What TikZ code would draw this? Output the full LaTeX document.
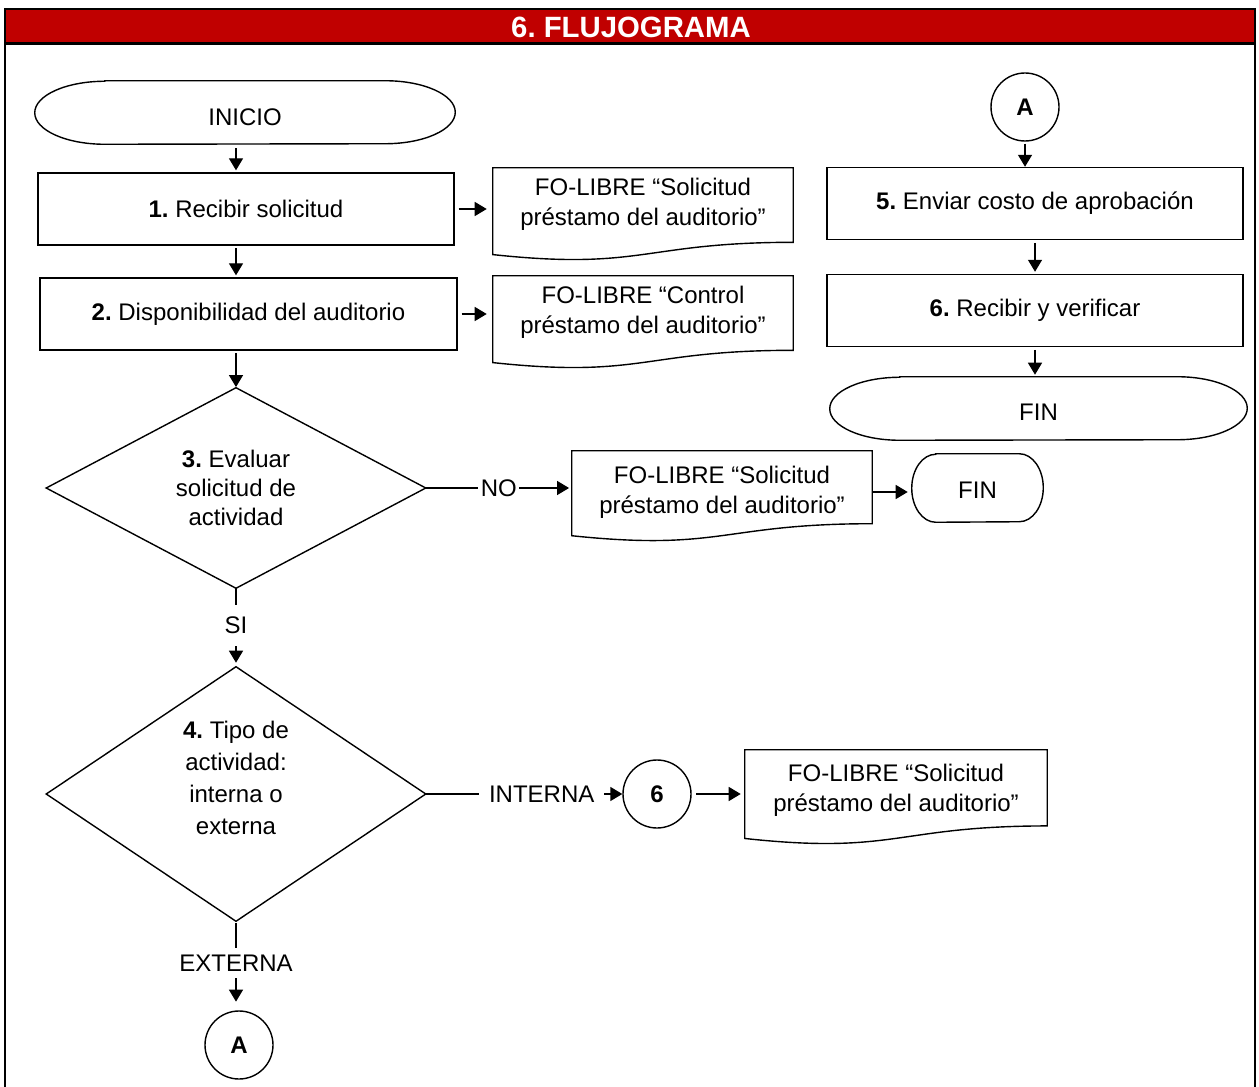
\documentclass[tikz,border=0pt]{standalone}
\usepackage{fontspec}
\setmainfont{Liberation Sans}
\frenchspacing
\usetikzlibrary{arrows.meta,calc}
\definecolor{titlered}{HTML}{C00000}
\newcommand\termpath[3]{%
  \draw[shp] ([xshift=#2]#1.north west) -- ([xshift=-#2]#1.north east)
    arc[start angle=90, end angle=-90, x radius=#2, y radius=#3]
    -- ([xshift=#2]#1.south west)
    arc[start angle=270, end angle=90, x radius=#2, y radius=#3] -- cycle;}
\newcommand\docpath[2]{%
  \draw[shp] (#1.north west) -- (#1.north east) -- ($(#1.north east)+(0,0.802*#2)$)
    .. controls ($(#1.north)+(0,0.802*#2)$) and ($(#1.north)+(0,1.107*#2)$) ..
    ($(#1.north west)+(0,0.934*#2)$) -- cycle;}
\begin{document}
\begin{tikzpicture}[x=0.75pt,y=-0.75pt,
  every node/.style={font=\fontsize{18pt}{21pt}\selectfont, inner sep=0pt},
  shp/.style={line width=1.05pt, line join=miter},
  procbox/.style={draw, line width=1.05pt, minimum width=312pt, minimum height=54pt},
  plain/.style={draw=none},
  docnode/.style={draw=none, align=center, minimum width=225pt,
    font=\fontsize{18pt}{22.5pt}\selectfont},
  conn/.style={circle, draw, line width=1.05pt, minimum size=51pt,
    font=\fontsize{18pt}{21pt}\selectfont\bfseries},
  arr/.style={line width=1.05pt, -{Triangle[length=9pt,width=10.5pt]}, shorten <=2pt, shorten >=1.5pt},
  lbl/.style={fill=white, inner xsep=2pt, inner ysep=2pt},
  ttl/.style={text=white, font=\fontsize{22pt}{24pt}\selectfont\bfseries}
]
\useasboundingbox (0,0) rectangle (1259,1087);
% frame and title
\fill[titlered] (5,9) rectangle (1255,43.5);
\draw[line width=1.6pt] (5,1087) -- (5,9) -- (1255,9) -- (1255,1087);
\draw[line width=1.6pt] (5,43.5) -- (1255,43.5);
\node[ttl] (title) at (631,27) {6. FLUJOGRAMA};

% left column
\node[plain, minimum width=315pt, minimum height=47.25pt, text height=19.6pt] (ini) at (245,112.5) {INICIO};
\termpath{ini}{52.5pt}{23.625pt}
\node[procbox] (b1) at (246,209) {\textbf{1.} Recibir solicitud};
\node[procbox, minimum width=312.75pt] (b2) at (248.5,314) {\textbf{2.} Disponibilidad del auditorio};

\node[docnode, minimum height=54pt] (doc1) at (643,204) {FO-LIBRE “Solicitud\\préstamo del auditorio”};
\docpath{doc1}{93}
\node[docnode, minimum height=54pt] (doc2) at (643,312) {FO-LIBRE “Control\\préstamo del auditorio”};
\docpath{doc2}{93}

\node[plain, minimum width=284.25pt, minimum height=150pt, align=center,
  font=\fontsize{18pt}{21.75pt}\selectfont] (d3) at (236,488)
  {\textbf{3.} Evaluar\\solicitud de\\actividad};
\draw[shp] (d3.north) -- (d3.east) -- (d3.south) -- (d3.west) -- cycle;

\node[docnode, minimum height=61.5pt] (doc3) at (722,492) {FO-LIBRE “Solicitud\\préstamo del auditorio”};
\docpath{doc3}{91}
\node[plain, minimum width=98.25pt, minimum height=51pt, text height=15.5pt] (fin2) at (977.5,488) {FIN};
\termpath{fin2}{18pt}{25.5pt}

\node[plain, minimum width=284.25pt, minimum height=190.5pt, align=center,
  font=\fontsize{18pt}{24pt}\selectfont] (d4) at (236,794)
  {\textbf{4.} Tipo de\\actividad:\\interna o\\externa\\\mbox{}};
\draw[shp] (d4.north) -- (d4.east) -- (d4.south) -- (d4.west) -- cycle;

\node[conn] (c6) at (657,794) {6};
\node[docnode, minimum width=226.5pt, minimum height=60pt] (doc4) at (896,790) {FO-LIBRE “Solicitud\\préstamo del auditorio”};
\docpath{doc4}{95}

\node[conn] (cA) at (239,1045) {A};

% right column
\node[conn] (cA2) at (1025,107) {A};
\node[procbox] (b5) at (1035,203.5) {\textbf{5.} Enviar costo de aprobación};
\node[procbox] (b6) at (1035,310.5) {\textbf{6.} Recibir y verificar};
\node[plain, minimum width=312.75pt, minimum height=47.25pt, text height=18.2pt] (fin1) at (1038.5,408.5) {FIN};
\termpath{fin1}{52.5pt}{23.625pt}

% connectors
\draw[arr, shorten <=3pt] (ini.south -| d3.north) -- (b1.north -| d3.north);
\draw[arr] (b1.south -| d3.north) -- (b2.north -| d3.north);
\draw[arr, shorten >=0.5pt] (b2.south -| d3.north) -- (d3.north);
\draw[arr, shorten <=3pt, shorten >=4.5pt] (b1.east) -- (b1.east -| doc1.west);
\draw[arr, shorten <=3pt, shorten >=4.5pt] (b2.east) -- (b2.east -| doc2.west);
\draw[arr, shorten <=0pt, shorten >=2pt] (d3.east) -- node[lbl]{NO} (d3.east -| doc3.west);
\draw[arr, shorten <=0pt, shorten >=3pt] (doc3.east) -- (doc3.east -| fin2.west);
\draw[arr, shorten <=0pt, shorten >=3pt] (d3.south) -- node[lbl, inner ysep=9pt, pos=0.47]{SI} (d4.north);
\draw[arr, shorten <=0pt, shorten >=0pt] (d4.east) -- node[lbl, inner xsep=7.5pt, pos=0.59]{INTERNA} (c6.west);
\draw[arr, shorten <=3.5pt, shorten >=3pt] (c6.east) -- (c6.east -| doc4.west);
\draw[arr, shorten <=1.5pt, shorten >=6.5pt] (d4.south) -- node[lbl, inner ysep=5pt, pos=0.47]{EXTERNA} (d4.south |- cA.north);
\draw[arr, shorten <=1.5pt, shorten >=0pt] (cA2.south) -- (cA2.south |- b5.north);
\draw[arr] (b5.south) -- (b6.north);
\draw[arr] (b6.south) -- (b6.south |- fin1.north);
\end{tikzpicture}
\end{document}
